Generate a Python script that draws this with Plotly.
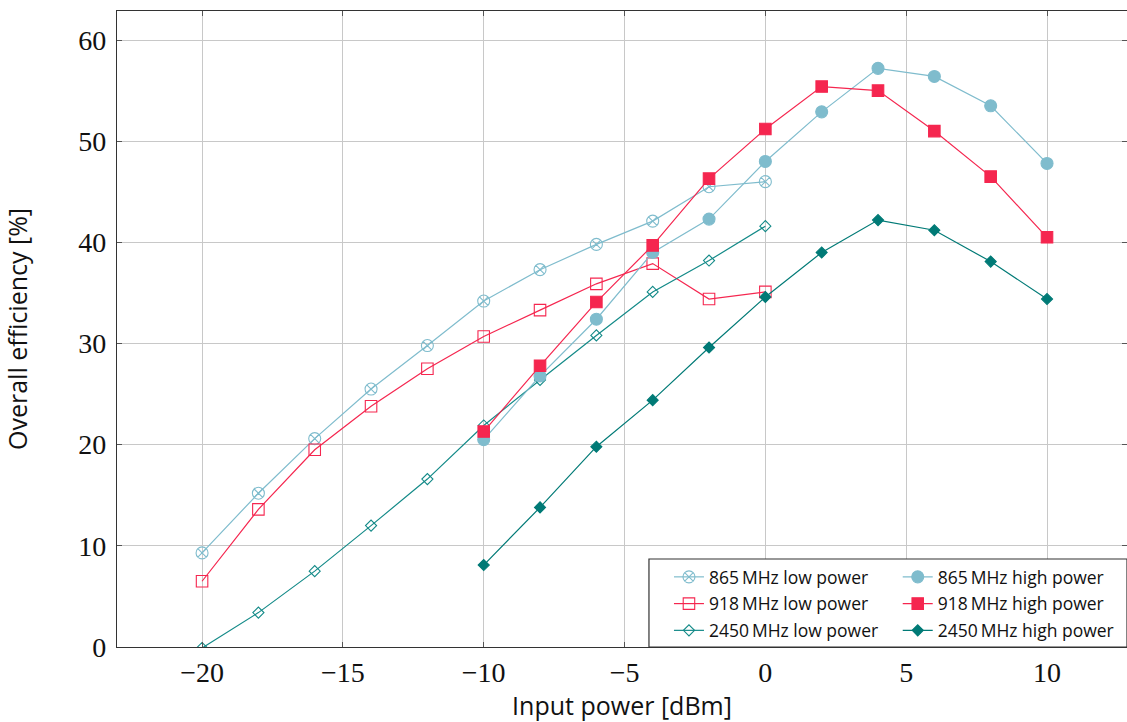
import plotly.graph_objects as go

x_low = [-20, -18, -16, -14, -12, -10, -8, -6, -4, -2, 0]
x_high = [-10, -8, -6, -4, -2, 0, 2, 4, 6, 8, 10]

eff_865_low = [9.3, 15.2, 20.6, 25.5, 29.8, 34.2, 37.3, 39.8, 42.1, 45.5, 46.0]
eff_918_low = [6.5, 13.6, 19.5, 23.8, 27.5, 30.7, 33.3, 35.9, 37.9, 34.4, 35.1]
eff_2450_low = [-0.1, 3.4, 7.5, 12.0, 16.6, 21.9, 26.4, 30.8, 35.1, 38.2, 41.6]

eff_865_high = [20.5, 26.8, 32.4, 39.0, 42.3, 48.0, 52.9, 57.2, 56.4, 53.5, 47.8]
eff_918_high = [21.3, 27.8, 34.1, 39.7, 46.3, 51.2, 55.4, 55.0, 51.0, 46.5, 40.5]
eff_2450_high = [8.1, 13.8, 19.8, 24.4, 29.6, 34.6, 39.0, 42.2, 41.2, 38.1, 34.4]

x_ticks = [-20, -15, -10, -5, 0, 5, 10]
y_ticks = [0, 10, 20, 30, 40, 50, 60]

C_BLUE = "#7fbccd"
C_RED = "#f5264f"
C_TEAL_L = "#138a88"
C_TEAL_H = "#007a76"

series = [
    ("865\u2009MHz low power", x_low, eff_865_low, C_BLUE, "circle-x-open", 12, "legend"),
    ("918\u2009MHz low power", x_low, eff_918_low, C_RED, "square-open", 11.5, "legend"),
    ("2450\u2009MHz low power", x_low, eff_2450_low, C_TEAL_L, "diamond-open", 8.5, "legend"),
    ("865\u2009MHz high power", x_high, eff_865_high, C_BLUE, "circle", 12, "legend2"),
    ("918\u2009MHz high power", x_high, eff_918_high, C_RED, "square", 11.5, "legend2"),
    ("2450\u2009MHz high power", x_high, eff_2450_high, C_TEAL_H, "diamond", 8.5, "legend2"),
]

fig = go.Figure()
for i, (name, xs, ys, col, sym, sz, leg) in enumerate(series):
    fig.add_trace(go.Scatter(
        x=xs, y=ys, name=name, mode="lines+markers",
        line=dict(color=col, width=1.2),
        marker=dict(symbol=sym, size=sz, color=col,
                    line=dict(color=col, width=1.1)),
        legend=leg, legendgroup=f"g{i}",
    ))

fig.add_shape(type="rect", xref="paper", yref="paper",
              x0=0.5267, x1=1.0, y0=0.0, y1=0.1384,
              fillcolor="white", line=dict(color="#333333", width=1.2),
              layer="above")

axis_common = dict(
    showline=True, linecolor="#333333", linewidth=1.3, mirror="ticks",
    ticks="inside", ticklen=5, tickcolor="#555555", tickwidth=1.3,
    showgrid=True, gridcolor="#c8c8c8", gridwidth=1, zeroline=False,
    tickfont=dict(family="Liberation Serif", size=28, color="#111111"),
)

fig.update_xaxes(range=[-23.02, 12.84], tickvals=x_ticks,
                 ticktext=[str(v).replace("-", "\u2212") for v in x_ticks],
                 title=dict(text="Input power [dBm]", standoff=12,
                            font=dict(family="Open Sans", size=25, color="#111111")),
                 **axis_common)
fig.update_yaxes(range=[0, 62.87], tickvals=y_ticks, ticklabelstandoff=4,
                 title=dict(text="Overall efficiency [%]", standoff=59,
                            font=dict(family="Open Sans", size=25, color="#111111")),
                 **axis_common)

leg_common = dict(
    bgcolor="rgba(0,0,0,0)", borderwidth=0, orientation="v",
    font=dict(family="Open Sans", size=17.5, color="#111111"),
    yanchor="top", y=0.1384, xanchor="left",
    traceorder="grouped", tracegroupgap=1,
)
fig.update_layout(
    width=1127, height=722,
    margin=dict(l=117, r=0, t=11, b=75),
    plot_bgcolor="white", paper_bgcolor="white",
    legend=dict(x=0.5465, **leg_common),
    legend2=dict(x=0.773, **leg_common),
    showlegend=True,
)

fig.write_html(
    "out.html",
    config={"displayModeBar": False},
    post_script="document.body.style.margin='0';document.body.style.overflow='hidden';",
)
